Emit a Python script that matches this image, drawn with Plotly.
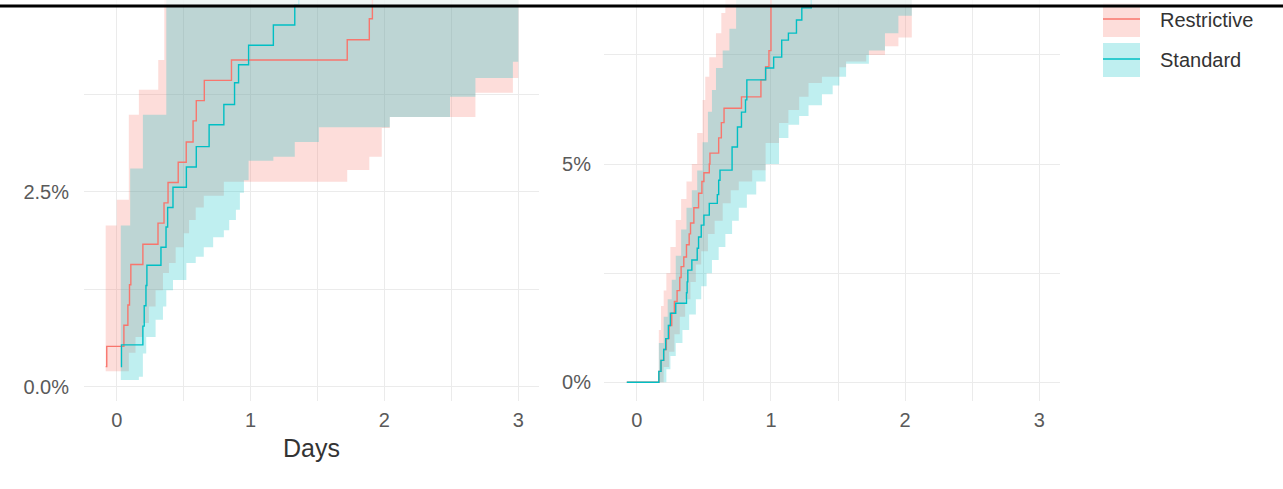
import plotly.graph_objects as go

# ---------------- data (days, cumulative incidence in %) ----------------
# Panel A
A_RES_T = [-0.083, -0.075, 0.053, 0.083, 0.095, 0.105, 0.195, 0.308, 0.353, 0.383, 0.459,
           0.519, 0.57, 0.594, 0.654, 0.857, 1.722, 1.887, 1.91, 1.93, 1.98, 2.04, 2.5, 3.0]
A_RES_V = [0.26, 0.52, 0.79, 1.05, 1.31, 1.57, 1.83, 2.10, 2.36, 2.62, 2.88,
           3.14, 3.41, 3.67, 3.93, 4.19, 4.45, 4.72, 4.98, 5.24, 5.50, 5.76, 6.03, 6.03]
A_RES_LO_T = [-0.083, 0.09, 0.14, 0.195, 0.24, 0.29, 0.345, 0.39, 0.44, 0.50, 0.54, 0.59,
              0.65, 0.80, 1.722, 1.887, 1.98, 2.04, 2.68, 2.96, 3.0]
A_RES_LO = [0.20, 0.44, 0.64, 0.82, 1.03, 1.24, 1.46, 1.59, 1.79, 1.97, 2.14, 2.30,
            2.45, 2.63, 2.78, 2.95, 3.32, 3.46, 3.77, 3.96, 3.96]
A_RES_HI_T = [-0.083, 0.0, 0.09, 0.165, 0.31, 0.355, 3.0]
A_RES_HI = [2.07, 2.40, 3.49, 3.81, 4.19, 6.5, 6.5]

A_STD_T = [0.03, 0.035, 0.195, 0.205, 0.218, 0.225, 0.33, 0.368, 0.38, 0.42, 0.52,
           0.594, 0.69, 0.80, 0.88, 0.91, 0.985, 1.17, 1.33, 1.36, 1.51, 2.04, 2.49, 3.0]
A_STD_V = [0.26, 0.54, 0.78, 1.04, 1.30, 1.56, 1.79, 2.05, 2.30, 2.56, 2.82,
           3.08, 3.36, 3.62, 3.90, 4.13, 4.38, 4.64, 4.90, 5.16, 5.42, 5.68, 5.94, 5.94]
A_STD_LO_T = [0.03, 0.165, 0.195, 0.22, 0.29, 0.345, 0.37, 0.42, 0.52, 0.59, 0.65, 0.72,
              0.80, 0.84, 0.89, 0.92, 0.95, 0.985, 1.17, 1.33, 1.51, 2.04, 2.49, 2.68, 2.96, 3.0]
A_STD_LO = [0.09, 0.13, 0.43, 0.64, 0.86, 1.03, 1.24, 1.37, 1.59, 1.67, 1.79, 1.92,
            2.01, 2.14, 2.27, 2.49, 2.65, 2.90, 2.95, 3.14, 3.33, 3.46, 3.72, 3.96, 4.17, 4.17]
A_STD_HI_T = [0.03, 0.10, 0.195, 0.37, 3.0]
A_STD_HI = [2.07, 2.80, 3.49, 6.5, 6.5]

# Panel B
B_RES_T = [-0.075, 0.164, 0.18, 0.20, 0.22, 0.24, 0.26, 0.28, 0.30, 0.32, 0.33, 0.35, 0.37,
           0.39, 0.40, 0.425, 0.46, 0.485, 0.50, 0.54, 0.545, 0.61, 0.63, 0.65, 0.78, 0.925,
           0.96, 0.985, 1.0, 1.05, 1.2, 1.5, 2.0, 3.0]
B_RES_V = [0, 0.25, 0.5, 0.75, 1.0, 1.3, 1.58, 1.85, 2.1, 2.4, 2.65, 2.87, 3.15,
           3.4, 3.65, 4.0, 4.33, 4.6, 4.8, 5.0, 5.25, 5.6, 5.95, 6.28, 6.54, 6.93,
           7.23, 7.6, 9.0, 9.5, 10.0, 10.5, 11.0, 11.0]
B_RES_LO_T = [-0.075, 0.164, 0.20, 0.24, 0.28, 0.32, 0.36, 0.40, 0.44, 0.48, 0.53, 0.58, 0.64,
              0.70, 0.76, 0.86, 0.96, 1.06, 1.13, 1.21, 1.28, 1.38, 1.51, 1.56, 1.71, 1.85,
              1.95, 2.05, 3.0]
B_RES_LO = [0, 0.0, 0.35, 0.7, 1.1, 1.5, 1.9, 2.3, 2.7, 3.0, 3.4, 3.7, 4.1,
            4.4, 4.6, 4.86, 5.48, 5.94, 6.24, 6.54, 6.86, 7.0, 7.22, 7.35, 7.5, 7.7,
            7.9, 8.9, 8.9]
B_RES_HI_T = [-0.075, 0.164, 0.18, 0.20, 0.22, 0.25, 0.29, 0.33, 0.37, 0.41, 0.45, 0.49,
              0.51, 0.54, 0.59, 0.63, 0.66, 3.0]
B_RES_HI = [0, 1.2, 1.75, 2.1, 2.5, 3.1, 3.72, 4.2, 4.6, 5.0, 5.71, 6.47,
            7.0, 7.45, 8.0, 8.46, 9.5, 9.5]

B_STD_T = [-0.075, 0.164, 0.18, 0.20, 0.215, 0.235, 0.25, 0.29, 0.37, 0.375, 0.38, 0.41,
           0.45, 0.46, 0.48, 0.50, 0.54, 0.60, 0.61, 0.62, 0.71, 0.75, 0.78, 0.81, 0.82,
           0.96, 1.02, 1.08, 1.13, 1.19, 1.23, 1.30, 1.40, 2.0, 3.0]
B_STD_V = [0, 0.25, 0.5, 0.75, 1.0, 1.3, 1.58, 1.81, 2.05, 2.3, 2.57, 2.8,
           3.07, 3.33, 3.6, 3.83, 4.1, 4.3, 4.63, 4.86, 5.39, 5.85, 6.19, 6.47, 6.93,
           7.2, 7.45, 7.84, 8.0, 8.3, 8.58, 9.0, 9.4, 10.0, 10.0]
B_STD_LO_T = [-0.075, 0.164, 0.22, 0.25, 0.29, 0.34, 0.39, 0.44, 0.48, 0.52, 0.56, 0.61, 0.66,
              0.71, 0.76, 0.82, 0.89, 0.96, 1.06, 1.13, 1.21, 1.28, 1.38, 1.46, 1.51, 1.56,
              1.73, 1.85, 1.95, 2.05, 3.0]
B_STD_LO = [0, 0.0, 0.3, 0.6, 0.9, 1.2, 1.55, 1.9, 2.2, 2.5, 2.8, 3.1, 3.4,
            3.7, 4.0, 4.3, 4.6, 5.0, 5.6, 5.9, 6.1, 6.35, 6.6, 6.8, 7.0, 7.3,
            7.6, 8.0, 8.4, 8.9, 8.9]
B_STD_HI_T = [-0.075, 0.164, 0.20, 0.23, 0.26, 0.29, 0.33, 0.37, 0.41, 0.45, 0.49, 0.53,
              0.56, 0.59, 0.64, 0.69, 0.74, 3.0]
B_STD_HI = [0, 0.9, 1.5, 1.9, 2.35, 2.9, 3.5, 4.0, 4.4, 4.85, 5.5, 6.2,
            6.7, 7.2, 7.6, 8.1, 9.3, 9.3]

GROUPS = ["Restrictive", "Standard"]
X_TICKS = [0, 1, 2, 3]
A_Y_TICKS = [0, 2.5, 5]
A_Y_LABELS = ["0.0%", "2.5%", "5.0%"]
B_Y_TICKS = [0, 5, 10]
B_Y_LABELS = ["0%", "5%", "10%"]

# ---------------- styling ----------------
RED, CYAN = "#F8766D", "#00BFC4"
RED_FILL, CYAN_FILL = "rgba(248,118,109,0.25)", "rgba(0,191,196,0.25)"
GRID = "#EBEBEB"
FONT = "Liberation Sans, Arial, sans-serif"

W, H = 1283, 489
BOTTOM = 401                      # pixel row of the panels' lower edge
ML, MR, MT, MB = 84, 1283 - 1060, 0, H - BOTTOM
PW, PH = W - ML - MR, H - MT - MB


def px_x(p):
    return (p - ML) / PW


def px_y(p):
    return (BOTTOM - p) / PH


fig = go.Figure()


def band(t_lo, lo, t_hi, hi, fill, xa, ya):
    fig.add_trace(go.Scatter(x=t_lo, y=lo, mode="lines", line=dict(width=0, shape="hv"),
                             hoverinfo="skip", showlegend=False, xaxis=xa, yaxis=ya))
    fig.add_trace(go.Scatter(x=t_hi, y=hi, mode="lines", line=dict(width=0, shape="hv"),
                             fill="tonexty", fillcolor=fill, hoverinfo="skip",
                             showlegend=False, xaxis=xa, yaxis=ya))


def curve(t, v, color, xa, ya):
    fig.add_trace(go.Scatter(x=t, y=v, mode="lines", line=dict(width=1.4, color=color, shape="hv"),
                             hoverinfo="skip", showlegend=False, xaxis=xa, yaxis=ya))


band(A_RES_LO_T, A_RES_LO, A_RES_HI_T, A_RES_HI, RED_FILL, "x", "y")
band(A_STD_LO_T, A_STD_LO, A_STD_HI_T, A_STD_HI, CYAN_FILL, "x", "y")
curve(A_RES_T, A_RES_V, RED, "x", "y")
curve(A_STD_T, A_STD_V, CYAN, "x", "y")

band(B_RES_LO_T, B_RES_LO, B_RES_HI_T, B_RES_HI, RED_FILL, "x2", "y2")
band(B_STD_LO_T, B_STD_LO, B_STD_HI_T, B_STD_HI, CYAN_FILL, "x2", "y2")
curve(B_RES_T, B_RES_V, RED, "x2", "y2")
curve(B_STD_T, B_STD_V, CYAN, "x2", "y2")

tick_font = dict(family=FONT, size=20, color="#5a5a5a")
x_common = dict(range=[-0.245, 3.155], tickmode="array", tickvals=X_TICKS,
                ticktext=[str(v) for v in X_TICKS], showgrid=True, gridcolor=GRID, gridwidth=1.3,
                zeroline=False, showline=False, ticks="outside", ticklen=1,
                tickcolor="rgba(0,0,0,0)", tickfont=tick_font,
                minor=dict(tickmode="array", tickvals=[0.5, 1.5, 2.5], showgrid=True,
                           gridcolor=GRID, gridwidth=1.0))

fig.update_layout(
    width=W, height=H,
    margin=dict(l=ML, r=MR, t=MT, b=MB),
    paper_bgcolor="white", plot_bgcolor="white",
    showlegend=False,
    xaxis=dict(domain=[0, px_x(539)], anchor="y", **x_common),
    xaxis2=dict(domain=[px_x(604), 1.0], anchor="y2", **x_common),
    yaxis=dict(domain=[0, 1], anchor="x", range=[-0.18, 4.96], tickmode="array",
               tickvals=A_Y_TICKS, ticktext=A_Y_LABELS, showgrid=True, gridcolor=GRID,
               gridwidth=1.3, zeroline=False, showline=False, ticks="outside", ticklen=10,
               tickcolor="rgba(0,0,0,0)", tickfont=tick_font,
               minor=dict(tickmode="array", tickvals=[1.25, 3.75], showgrid=True,
                          gridcolor=GRID, gridwidth=1.0)),
    yaxis2=dict(domain=[0, 1], anchor="x2", range=[-0.43, 8.76], tickmode="array",
                tickvals=B_Y_TICKS, ticktext=B_Y_LABELS, showgrid=True, gridcolor=GRID,
                gridwidth=1.3, zeroline=False, showline=False, ticks="outside", ticklen=8,
                tickcolor="rgba(0,0,0,0)", tickfont=tick_font,
                minor=dict(tickmode="array", tickvals=[2.5, 7.5], showgrid=True,
                           gridcolor=GRID, gridwidth=1.0)),
)

# axis title under the first panel
fig.add_annotation(text="Days", xref="paper", yref="paper", x=px_x(311), y=px_y(448),
                   showarrow=False, xanchor="center", yanchor="middle",
                   font=dict(family=FONT, size=25, color="#333333"))

# legend: filled key with a line through it, then the label
keys = [(RED, RED_FILL, 20), (CYAN, CYAN_FILL, 60)]
for name, (lc, fc, cy) in zip(GROUPS, keys):
    fig.add_shape(type="rect", xref="paper", yref="paper", x0=px_x(1103), x1=px_x(1140),
                  y0=px_y(cy - 17), y1=px_y(cy + 17), fillcolor=fc, line=dict(width=0))
    fig.add_shape(type="line", xref="paper", yref="paper", x0=px_x(1103), x1=px_x(1140),
                  y0=px_y(cy - 1), y1=px_y(cy - 1), line=dict(color=lc, width=1.4))
    fig.add_annotation(text=name, xref="paper", yref="paper", x=px_x(1158), y=px_y(cy),
                       showarrow=False, xanchor="left", yanchor="middle",
                       font=dict(family=FONT, size=20, color="#333333"))

# thin strip above the top rule, then the rule itself
fig.add_shape(type="rect", xref="paper", yref="paper", x0=px_x(0), x1=px_x(W),
              y0=px_y(5), y1=px_y(0), fillcolor="rgba(255,255,255,0.75)",
              line=dict(width=0), layer="above")
fig.add_shape(type="line", xref="paper", yref="paper", x0=px_x(0), x1=px_x(W),
              y0=px_y(6), y1=px_y(6), line=dict(color="black", width=3), layer="above")

fig.write_html("out.html")
